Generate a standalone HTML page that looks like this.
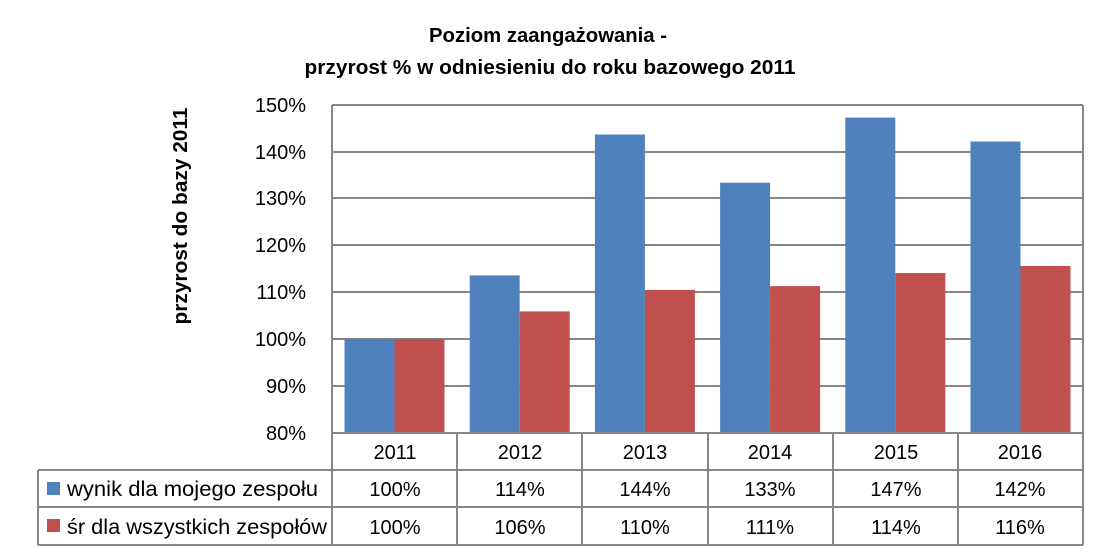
<!DOCTYPE html><html><head><style>body{margin:0;background:#fff}svg text{font-family:"Liberation Sans",Arial,sans-serif}</style></head><body>
<svg width="1108" height="555" xmlns="http://www.w3.org/2000/svg">
<text x="548" y="42" text-anchor="middle" font-size="20" font-weight="bold" textLength="238" lengthAdjust="spacingAndGlyphs">Poziom zaangażowania -</text>
<text x="550" y="74" text-anchor="middle" font-size="20" font-weight="bold" textLength="491" lengthAdjust="spacingAndGlyphs">przyrost % w odniesieniu do roku bazowego 2011</text>
<text transform="translate(187,216) rotate(-90)" text-anchor="middle" font-size="20" font-weight="bold" textLength="217" lengthAdjust="spacingAndGlyphs">przyrost do bazy 2011</text>
<g stroke="#868686" stroke-width="2">
<line x1="332" y1="105" x2="1083" y2="105"/><line x1="332" y1="152" x2="1083" y2="152"/><line x1="332" y1="198" x2="1083" y2="198"/><line x1="332" y1="245" x2="1083" y2="245"/><line x1="332" y1="292" x2="1083" y2="292"/><line x1="332" y1="339" x2="1083" y2="339"/><line x1="332" y1="386" x2="1083" y2="386"/>
</g>
<g font-size="20" text-anchor="end">
<text x="306" y="112">150%</text><text x="306" y="159">140%</text><text x="306" y="205">130%</text><text x="306" y="252">120%</text><text x="306" y="299">110%</text><text x="306" y="346">100%</text><text x="306" y="393">90%</text><text x="306" y="440">80%</text>
</g>
<g fill="#4f81bd">
<rect x="344.5" y="339" width="50" height="94"/>
<rect x="469.7" y="275.4" width="50" height="157.6"/>
<rect x="594.9" y="134.5" width="50" height="298.5"/>
<rect x="720.1" y="182.7" width="50" height="250.3"/>
<rect x="845.3" y="117.6" width="50" height="315.4"/>
<rect x="970.5" y="141.5" width="50" height="291.5"/>
</g>
<g fill="#c0504d">
<rect x="394.5" y="339" width="50" height="94"/>
<rect x="519.7" y="311.4" width="50" height="121.6"/>
<rect x="644.9" y="289.9" width="50" height="143.1"/>
<rect x="770.1" y="286.1" width="50" height="146.9"/>
<rect x="895.3" y="273" width="50" height="160"/>
<rect x="1020.5" y="266" width="50" height="167"/>
</g>
<g stroke="#868686" stroke-width="2" fill="none">
<line x1="332" y1="105" x2="332" y2="545"/><line x1="1083" y1="105" x2="1083" y2="545"/>
<line x1="332" y1="433" x2="1083" y2="433"/>
<line x1="38" y1="470" x2="1083" y2="470"/><line x1="38" y1="507" x2="1083" y2="507"/><line x1="38" y1="545" x2="1083" y2="545"/>
<line x1="38" y1="470" x2="38" y2="545"/>
<line x1="457" y1="433" x2="457" y2="545"/><line x1="582" y1="433" x2="582" y2="545"/><line x1="708" y1="433" x2="708" y2="545"/><line x1="833" y1="433" x2="833" y2="545"/><line x1="958" y1="433" x2="958" y2="545"/>
</g>
<rect x="47" y="482" width="13" height="13" fill="#4f81bd"/>
<rect x="47" y="519" width="13" height="13" fill="#c0504d"/>
<g font-size="21">
<text x="67" y="496" textLength="251" lengthAdjust="spacingAndGlyphs">wynik dla mojego zespołu</text>
<text x="67" y="534" textLength="260" lengthAdjust="spacingAndGlyphs">śr dla wszystkich zespołów</text>
</g>
<g font-size="20" text-anchor="middle">
<text x="395" y="459">2011</text><text x="520" y="459">2012</text><text x="645" y="459">2013</text><text x="770" y="459">2014</text><text x="896" y="459">2015</text><text x="1020" y="459">2016</text>
<text x="395" y="496">100%</text><text x="520" y="496">114%</text><text x="645" y="496">144%</text><text x="770" y="496">133%</text><text x="896" y="496">147%</text><text x="1020" y="496">142%</text>
<text x="395" y="534">100%</text><text x="520" y="534">106%</text><text x="645" y="534">110%</text><text x="770" y="534">111%</text><text x="896" y="534">114%</text><text x="1020" y="534">116%</text>
</g>
</svg></body></html>
